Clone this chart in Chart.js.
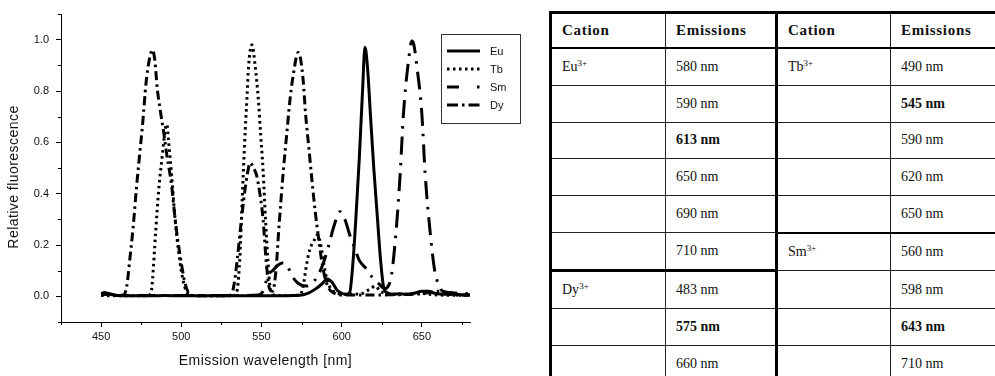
<!DOCTYPE html>
<html>
<head>
<meta charset="utf-8">
<script src="https://cdn.jsdelivr.net/npm/chart.js@4.4.1/dist/chart.umd.min.js"></script>
<style>
  html, body { margin: 0; padding: 0; background: #fff; }
  body { width: 995px; height: 376px; position: relative; overflow: hidden; }
  #plot { position: absolute; left: 0; top: 0; }
  #tbl {
    position: absolute; left: 549px; top: 11px; width: 455px;
    border-collapse: collapse; table-layout: fixed;
    font-family: "Liberation Serif", "Times New Roman", serif;
    font-size: 14px; color: #111;
    border-top: 3px solid #000; border-left: 3px solid #000;
  }
  #tbl td, #tbl th {
    border: 1px solid #222; padding: 0 0 0 10px;
    text-align: left; vertical-align: middle; font-weight: normal;
  }
  #tbl th { font-weight: bold; font-size: 15px; letter-spacing: 0.7px; height: 33px; border-bottom: 2px solid #000; }
  #tbl td { height: 35.8px; }
  #tbl .split { border-right: 3px solid #000; }
  #tbl .thick { border-top: 3px solid #000; }
  #tbl .mid { border-top: 2px solid #000; }
  #tbl b { font-weight: bold; }
  #tbl sup { font-size: 9px; vertical-align: 5px; line-height: 0; color: #111; }
</style>
</head>
<body>
<canvas id="plot" width="540" height="376"></canvas>
<table id="tbl">
  <colgroup><col style="width:115px"><col style="width:111px"><col style="width:114px"><col style="width:115px"></colgroup>
  <thead><tr><th>Cation</th><th class="split">Emissions</th><th>Cation</th><th>Emissions</th></tr></thead>
  <tbody id="rows"></tbody>
</table>
<script>
// emission spectra, wavelength [nm] / relative fluorescence
const euWl  = [450, 455, 460, 470, 480, 490, 500, 510, 520, 530, 540, 550, 560, 570, 576, 580, 584, 588, 591, 594, 597, 600, 603, 605, 607, 609, 611, 613, 614.5, 616, 618, 620, 622, 624, 626, 628, 632, 636, 640, 645, 650, 654, 658, 664, 670, 676, 680];
const euVal = [0.005, 0.01, 0.003, 0.002, 0.002, 0.003, 0.002, 0.002, 0.002, 0.002, 0.002, 0.002, 0.002, 0.003, 0.006, 0.015, 0.03, 0.05, 0.068, 0.055, 0.025, 0.012, 0.008, 0.015, 0.13, 0.32, 0.54, 0.8, 0.97, 0.9, 0.7, 0.5, 0.33, 0.16, 0.04, 0.015, 0.008, 0.01, 0.008, 0.012, 0.02, 0.02, 0.012, 0.008, 0.008, 0.006, 0.006];

const tbWl  = [450, 460, 470, 478, 481, 482, 484, 486, 488, 490, 491, 492, 494, 496, 498, 500, 502, 504, 508, 515, 525, 533, 535, 536.5, 538, 539.5, 541, 542, 544, 546, 548, 549.5, 551, 552.5, 554, 555.5, 558, 565, 574, 576, 578, 580, 583, 585, 587, 589, 591, 594, 598, 605, 612, 618, 621, 624, 630, 640, 648, 652, 660, 680];
const tbVal = [0.003, 0.002, 0.002, 0.002, 0.01, 0.06, 0.25, 0.42, 0.54, 0.65, 0.67, 0.61, 0.47, 0.31, 0.19, 0.1, 0.04, 0.012, 0.003, 0.002, 0.002, 0.003, 0.03, 0.15, 0.38, 0.6, 0.78, 0.9, 0.98, 0.9, 0.77, 0.63, 0.49, 0.3, 0.14, 0.03, 0.005, 0.003, 0.005, 0.04, 0.12, 0.18, 0.22, 0.24, 0.2, 0.12, 0.06, 0.025, 0.01, 0.008, 0.01, 0.03, 0.04, 0.02, 0.01, 0.008, 0.012, 0.01, 0.005, 0.004];

const smWl  = [450, 455, 460, 480, 500, 520, 540, 548, 551, 553, 555, 557, 560, 563, 566, 569, 573, 578, 583, 588, 592, 595, 599, 602, 605, 608, 611, 615, 619, 623, 627, 629, 631, 634, 636.5, 638.5, 641.5, 643.8, 645, 647, 650, 652, 655, 658, 660.5, 663, 668, 673, 680];
const smVal = [0.01, 0.008, 0.003, 0.003, 0.003, 0.003, 0.003, 0.005, 0.02, 0.06, 0.09, 0.1, 0.12, 0.13, 0.12, 0.08, 0.05, 0.04, 0.06, 0.12, 0.2, 0.27, 0.33, 0.3, 0.24, 0.19, 0.14, 0.11, 0.075, 0.05, 0.03, 0.04, 0.08, 0.26, 0.48, 0.71, 0.91, 0.995, 0.98, 0.89, 0.71, 0.48, 0.26, 0.1, 0.045, 0.02, 0.015, 0.012, 0.01];

const dyWl  = [450, 452, 455, 460, 464, 466, 468, 470, 472, 474, 476, 478, 480, 482, 483.5, 485, 487, 489, 491, 494, 496, 498, 500, 502, 504, 507, 515, 525, 531, 533, 535, 537, 539, 541, 543, 545, 547, 549, 551, 553, 555, 557, 559, 561, 563.5, 566, 568, 570, 572, 573, 574.5, 576, 577.5, 579.5, 581.5, 583.5, 585.5, 587.5, 589.5, 592, 596, 600, 610, 630, 650, 660, 670, 680];
const dyVal = [0.01, 0.015, 0.01, 0.003, 0.005, 0.04, 0.15, 0.27, 0.42, 0.55, 0.68, 0.83, 0.92, 0.96, 0.92, 0.81, 0.72, 0.64, 0.55, 0.43, 0.31, 0.21, 0.13, 0.06, 0.02, 0.003, 0.002, 0.002, 0.005, 0.05, 0.15, 0.27, 0.38, 0.47, 0.52, 0.5, 0.47, 0.4, 0.3, 0.13, 0.03, 0.02, 0.1, 0.28, 0.48, 0.65, 0.78, 0.87, 0.94, 0.95, 0.92, 0.84, 0.71, 0.58, 0.45, 0.33, 0.23, 0.14, 0.075, 0.03, 0.01, 0.005, 0.005, 0.006, 0.01, 0.02, 0.005, 0.004];

const seriesNames = ['Eu', 'Tb', 'Sm', 'Dy'];
const xTicks = [450, 500, 550, 600, 650];
const xMinor = [425, 475, 525, 575, 625, 675];
const yTicks = [0, 0.2, 0.4, 0.6, 0.8, 1.0];
const yMinor = [-0.1, 0.1, 0.3, 0.5, 0.7, 0.9, 1.1];

// table contents
const leftCation   = ['Eu', '', '', '', '', '', 'Dy', '', ''];
const leftEmission = ['580', '590', '613', '650', '690', '710', '483', '575', '660'];
const rightCation   = ['Tb', '', '', '', '', 'Sm', '', '', ''];
const rightEmission = ['490', '545', '590', '620', '650', '560', '598', '643', '710'];
const boldEmission = { left: ['613', '575'], right: ['545', '643'] };

// line styles: plot dashes and the shorter legend samples
const dashes = [[], [2.5, 3.5], [18, 8, 2.5, 8], [9, 4, 2.5, 4]];
const legendDashes = [[], [2.5, 3.5], [12, 18, 2.5, 8], [11, 4, 2.5, 4]];
const widths = [3, 3, 3, 3];

function points(wl, val) {
  return wl.map((w, i) => ({ x: w, y: val[i] }));
}

// build the table rows
const body = document.getElementById('rows');
leftEmission.forEach((em, i) => {
  const tr = document.createElement('tr');
  const cell = (txt, cls, bold) => {
    const td = document.createElement('td');
    if (cls) td.className = cls;
    td.innerHTML = bold ? '<b>' + txt + '</b>' : txt;
    tr.appendChild(td);
  };
  const lTop = i === 6 ? 'thick' : '';
  const rTop = i === 5 ? 'mid' : '';
  cell(leftCation[i] ? leftCation[i] + '<sup>3+</sup>' : '', lTop);
  cell(em + ' nm', (lTop + ' split').trim(), boldEmission.left.includes(em));
  cell(rightCation[i] ? rightCation[i] + '<sup>3+</sup>' : '', rTop);
  cell(rightEmission[i] + ' nm', rTop, boldEmission.right.includes(rightEmission[i]));
  body.appendChild(tr);
});

// minor ticks, axis titles and the boxed legend
const decor = {
  id: 'decor',
  afterDraw(chart) {
    const { ctx, scales: { x, y } } = chart;
    ctx.save();
    ctx.strokeStyle = '#000';
    ctx.lineWidth = 1;
    ctx.beginPath();
    xMinor.forEach(v => {
      const px = Math.round(x.getPixelForValue(v)) + 0.5;
      ctx.moveTo(px, y.bottom);
      ctx.lineTo(px, y.bottom + 3);
    });
    yMinor.forEach(v => {
      const py = Math.round(y.getPixelForValue(v)) + 0.5;
      ctx.moveTo(x.left - 3, py);
      ctx.lineTo(x.left, py);
    });
    ctx.stroke();

    ctx.fillStyle = '#111';
    ctx.font = '14px "Liberation Sans", Arial, sans-serif';
    ctx.textAlign = 'center';
    ctx.textBaseline = 'middle';
    ctx.letterSpacing = '0.45px';
    ctx.fillText('Emission wavelength [nm]', (x.left + x.right) / 2, 361);
    ctx.save();
    ctx.translate(14, 177);
    ctx.rotate(-Math.PI / 2);
    ctx.fillText('Relative fluorescence', 0, 0);
    ctx.restore();
    ctx.letterSpacing = '0px';

    // legend
    ctx.strokeStyle = '#333';
    ctx.lineWidth = 1;
    ctx.strokeRect(441.5, 34.5, 79, 89);
    ctx.font = '11px "Liberation Sans", Arial, sans-serif';
    ctx.textAlign = 'left';
    chart.data.datasets.forEach((ds, i) => {
      const ly = 51 + i * 18;
      ctx.strokeStyle = '#000';
      ctx.lineWidth = ds.borderWidth;
      ctx.setLineDash(legendDashes[i]);
      ctx.beginPath();
      ctx.moveTo(447, ly);
      ctx.lineTo(480, ly);
      ctx.stroke();
      ctx.setLineDash([]);
      ctx.fillText(ds.label, 490, ly + 0.5);
    });
    ctx.restore();
  }
};

new Chart(document.getElementById('plot'), {
  type: 'line',
  data: {
    datasets: [
      { label: seriesNames[0], data: points(euWl, euVal) },
      { label: seriesNames[1], data: points(tbWl, tbVal) },
      { label: seriesNames[2], data: points(smWl, smVal) },
      { label: seriesNames[3], data: points(dyWl, dyVal) }
    ].map((ds, i) => Object.assign(ds, {
      borderColor: '#000',
      borderWidth: widths[i],
      borderDash: dashes[i],
      borderCapStyle: 'butt',
      pointRadius: 0,
      cubicInterpolationMode: 'monotone',
      fill: false
    }))
  },
  options: {
    responsive: false,
    devicePixelRatio: 1,
    animation: false,
    layout: { padding: { left: 0, top: 14, right: 70, bottom: 0 } },
    plugins: { legend: { display: false }, tooltip: { enabled: false } },
    scales: {
      x: {
        type: 'linear', min: 425, max: 680,
        afterBuildTicks: s => { s.ticks = xTicks.map(v => ({ value: v })); },
        afterFit: s => { s.height = 54; },
        ticks: { color: '#111', padding: 3, maxRotation: 0, font: { family: '"Liberation Sans", Arial', size: 11 } },
        grid: { drawOnChartArea: false, tickLength: 5, tickColor: '#000' },
        border: { color: '#000', width: 1 }
      },
      y: {
        min: -0.1, max: 1.1,
        afterBuildTicks: s => { s.ticks = yTicks.map(v => ({ value: v })); },
        afterFit: s => { s.width = 61; },
        ticks: { color: '#111', padding: 7, callback: v => v.toFixed(1), font: { family: '"Liberation Sans", Arial', size: 11 } },
        grid: { drawOnChartArea: false, tickLength: 5, tickColor: '#000' },
        border: { color: '#000', width: 1 }
      }
    }
  },
  plugins: [decor]
});
</script>
</body>
</html>
